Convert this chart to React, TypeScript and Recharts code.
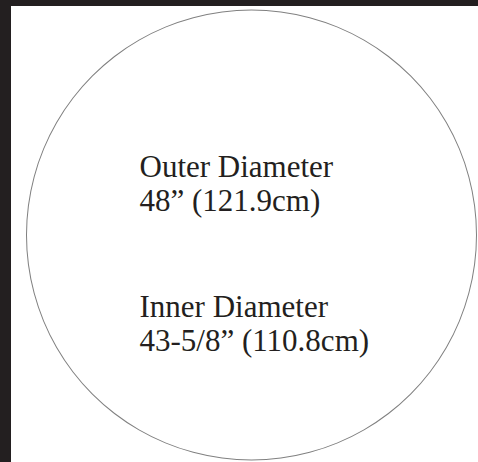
import React from 'react';
import { PieChart, Pie, Cell, Label } from 'recharts';

const outline = [{ name: 'Outer edge', value: 1 }];
const labelLines = ['Outer Diameter', '48” (121.9cm)', 'Inner Diameter', '43-5/8” (110.8cm)'];
const lineOffsets = [-58, -24, 82, 116];

const W = 478;
const H = 462;
const CX = 251.5;
const CY = 235;

const CircleText = () => {
  return (
    <g>
      {labelLines.map((t, i) => (
        <text
          key={t}
          x={CX - 112}
          y={CY + lineOffsets[i]}
          fill="#231f20"
          fontSize={31}
          fontFamily="'Liberation Serif', 'Times New Roman', serif"
        >
          {t}
        </text>
      ))}
    </g>
  );
};

const App: React.FC = () => {
  return (
    <div style={{ position: 'fixed', left: 0, top: 0, width: W, height: H, background: '#231f20' }}>
      <div style={{ position: 'absolute', left: 11, top: 6, right: 0, bottom: 0, background: '#ffffff' }} />
      <div style={{ position: 'absolute', left: 0, top: 0 }}>
        <PieChart width={W} height={H} margin={{ top: 0, right: 0, bottom: 0, left: 0 }}>
          <Pie
            data={outline}
            dataKey="value"
            cx={CX}
            cy={CY}
            innerRadius={224.5}
            outerRadius={225.5}
            startAngle={90}
            endAngle={-270}
            stroke="none"
            isAnimationActive={false}
          >
            <Cell fill="#808080" />
            <Label position="center" content={CircleText} />
          </Pie>
        </PieChart>
      </div>
    </div>
  );
};

export default App;
